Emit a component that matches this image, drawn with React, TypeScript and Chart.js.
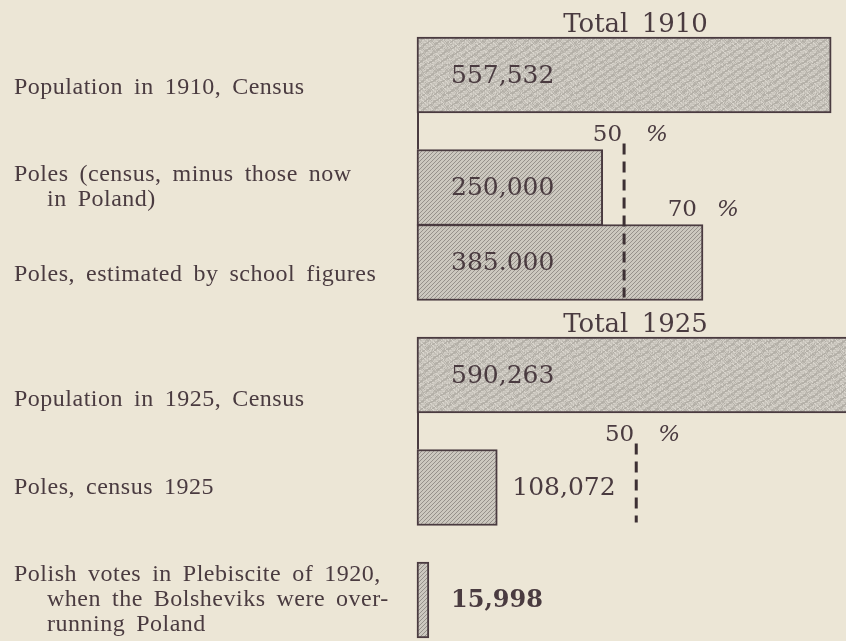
import React, { useEffect, useRef } from 'react';
import { Chart, registerables } from 'chart.js';

Chart.register(...registerables);

// Rows of the chart (blank rows are spacers between the bars)
const rowLabels: (string | string[])[] = [
  '',
  ['', 'Population in 1910, Census'],
  '',
  '',
  ['Poles (census, minus those now', '   in Poland)'],
  '',
  ['', 'Poles, estimated by school figures'],
  '',
  '',
  ['', '', 'Population in 1925, Census'],
  '',
  '',
  'Poles, census 1925',
  '',
  '',
  ['Polish votes in Plebiscite of 1920,', '   when the Bolsheviks were over-', '   running Poland'],
];

const rowValues: (number | null)[] = [
  null, 557532, null, null, 250000, null, 385000, null, null, 590263, null, null, 108072, null, null, 15998,
];

const valueTexts: string[] = [
  '', '557,532', '', '', '250,000', '', '385.000', '', '', '590,263', '', '', '108,072', '', '', '15,998',
];

// 'total' = stippled census totals, 'part' = hatched sub-counts
const rowKinds: string[] = [
  '', 'total', '', '', 'part', '', 'part', '', '', 'total', '', '', 'part', '', '', 'part',
];

const groupTitles = [
  { text: 'Total 1910', row: 1 },
  { text: 'Total 1925', row: 9 },
];

const percentMarks = [
  { pct: 50, ofRow: 1, aboveRow: 4, lineToRow: 6 },
  { pct: 70, ofRow: 1, aboveRow: 6, lineToRow: -1 },
  { pct: 50, ofRow: 9, aboveRow: 12, lineToRow: 12 },
];

const connectors = [
  [1, 4],
  [9, 12],
];

const X_MAX = 577500;

const BG = '#ece6d6';
const INK = '#4a3b40';

function makeStipple(): CanvasPattern | string {
  const c = document.createElement('canvas');
  const n = 64;
  c.width = n;
  c.height = n;
  const g = c.getContext('2d');
  if (!g) return '#c6c2ba';
  const img = g.createImageData(n, n);
  for (let y = 0; y < n; y++) {
    for (let x = 0; x < n; x++) {
      let h = Math.imul(x * 374761393 + y * 668265263, 1274126177);
      h = (h ^ (h >>> 13)) >>> 0;
      const v = (h & 255) / 255;
      let d = (v - 0.5) * 46;
      if (v > 0.93) d -= 40;
      const i = (y * n + x) * 4;
      img.data[i] = Math.max(0, Math.min(255, 199 + d));
      img.data[i + 1] = Math.max(0, Math.min(255, 195 + d));
      img.data[i + 2] = Math.max(0, Math.min(255, 187 + d));
      img.data[i + 3] = 255;
    }
  }
  g.putImageData(img, 0, 0);
  return g.createPattern(c, 'repeat') || '#c6c2ba';
}

function makeHatch(): CanvasPattern | string {
  const c = document.createElement('canvas');
  const n = 4;
  c.width = n;
  c.height = n;
  const g = c.getContext('2d');
  if (!g) return '#bdb9b1';
  const img = g.createImageData(n, n);
  for (let y = 0; y < n; y++) {
    for (let x = 0; x < n; x++) {
      const dark = (x + y) % n === 0;
      const i = (y * n + x) * 4;
      const rgb = dark ? [150, 145, 139] : [204, 200, 191];
      img.data[i] = rgb[0];
      img.data[i + 1] = rgb[1];
      img.data[i + 2] = rgb[2];
      img.data[i + 3] = 255;
    }
  }
  g.putImageData(img, 0, 0);
  return g.createPattern(c, 'repeat') || '#bdb9b1';
}

const overlayPlugin = {
  id: 'overlay',
  beforeDraw(chart: any) {
    const ctx = chart.ctx;
    ctx.save();
    ctx.fillStyle = BG;
    ctx.fillRect(0, 0, chart.width, chart.height);
    ctx.restore();
    ctx.letterSpacing = '0.5px';
    ctx.wordSpacing = '4.5px';
  },
  afterDatasetsDraw(chart: any) {
    const ctx = chart.ctx;
    const meta = chart.getDatasetMeta(0);
    const xs = chart.scales.x;
    const x0 = xs.getPixelForValue(0);
    const bar = (i: number) => {
      const el: any = meta.data[i];
      return { top: el.y - el.height / 2, bottom: el.y + el.height / 2, end: el.x, cy: el.y };
    };
    ctx.save();
    ctx.letterSpacing = '0px';
    ctx.wordSpacing = '0px';

    // connectors on the left edge of each group
    ctx.strokeStyle = INK;
    ctx.lineWidth = 2;
    connectors.forEach(([a, b]) => {
      const A = bar(a);
      const B = bar(b);
      ctx.beginPath();
      ctx.moveTo(x0 + 1, A.bottom);
      ctx.lineTo(x0 + 1, B.top);
      ctx.stroke();
    });

    // percentage marks
    percentMarks.forEach((m) => {
      const total = rowValues[m.ofRow] as number;
      const xp = xs.getPixelForValue((total * m.pct) / 100);
      const above = bar(m.aboveRow);
      if (m.lineToRow >= 0) {
        const to = bar(m.lineToRow);
        ctx.save();
        ctx.setLineDash([11, 7]);
        ctx.lineWidth = 3;
        ctx.strokeStyle = '#3d3034';
        ctx.beginPath();
        ctx.moveTo(xp, above.top - 6);
        ctx.lineTo(xp, to.bottom - 3);
        ctx.stroke();
        ctx.restore();
      }
      ctx.fillStyle = INK;
      ctx.font = '23px "DejaVu Serif"';
      ctx.textBaseline = 'alphabetic';
      const base = above.top - 9;
      const dx = m.lineToRow >= 0 ? 0 : -8;
      ctx.textAlign = 'right';
      ctx.fillText(String(m.pct), xp + dx - 2, base);
      ctx.textAlign = 'left';
      ctx.font = 'italic 23px "DejaVu Serif"';
      ctx.fillText('%', xp + dx + (m.lineToRow >= 0 ? 22 : 18), base);
    });

    // group titles
    groupTitles.forEach((t) => {
      const b = bar(t.row);
      ctx.fillStyle = INK;
      ctx.font = '26px "DejaVu Serif"';
      ctx.textAlign = 'center';
      ctx.textBaseline = 'alphabetic';
      ctx.wordSpacing = '5px';
      ctx.fillText(t.text, (chart.chartArea.left + chart.chartArea.right) / 2 + 4, b.top - 5);
      ctx.wordSpacing = '0px';
    });

    // value labels
    rowValues.forEach((v, i) => {
      if (v == null) return;
      const b = bar(i);
      const w = b.end - x0;
      const tx = w > 150 ? x0 + 34 : Math.max(b.end + 15, x0 + 34);
      ctx.fillStyle = INK;
      ctx.font = (i === 15 ? 'bold 24px' : '25px') + ' "DejaVu Serif"';
      ctx.textAlign = 'left';
      ctx.textBaseline = 'middle';
      ctx.fillText(valueTexts[i], tx, b.cy + 1);
    });
    ctx.restore();
  },
  afterDraw(chart: any) {
    chart.ctx.letterSpacing = '0px';
    chart.ctx.wordSpacing = '0px';
  },
};

export default function App() {
  const ref = useRef<HTMLCanvasElement | null>(null);

  useEffect(() => {
    const canvas = ref.current;
    if (!canvas) return;
    const stipple = makeStipple();
    const hatch = makeHatch();
    const chart = new Chart(canvas, {
      type: 'bar',
      data: {
        labels: rowLabels as any,
        datasets: [
          {
            data: rowValues as any,
            backgroundColor: rowKinds.map((k) => (k === 'total' ? stipple : hatch)) as any,
            borderColor: INK,
            borderWidth: 2,
            borderSkipped: false,
            barThickness: 76,
            clip: false,
          },
        ],
      },
      options: {
        indexAxis: 'y',
        animation: false,
        responsive: false,
        events: [],
        layout: { padding: { left: 14, top: 18.75, bottom: 22.25, right: 0 } },
        plugins: {
          legend: { display: false },
          tooltip: { enabled: false },
        },
        scales: {
          x: { display: false, min: 0, max: X_MAX },
          y: {
            grid: { display: false },
            border: { display: false },
            afterFit: (scale: any) => {
              scale.width = 403;
              scale.paddingTop = 0;
              scale.paddingBottom = 0;
            },
            ticks: {
              autoSkip: false,
              crossAlign: 'far',
              color: INK,
              font: { family: '"Liberation Serif"', size: 24, lineHeight: 1.04 },
            },
          },
        },
      },
      plugins: [overlayPlugin],
    });
    return () => chart.destroy();
  }, []);

  return (
    <div style={{ position: 'fixed', left: 0, top: 0, width: 846, height: 641, background: BG }}>
      <canvas ref={ref} width={846} height={641} style={{ display: 'block' }} />
    </div>
  );
}
